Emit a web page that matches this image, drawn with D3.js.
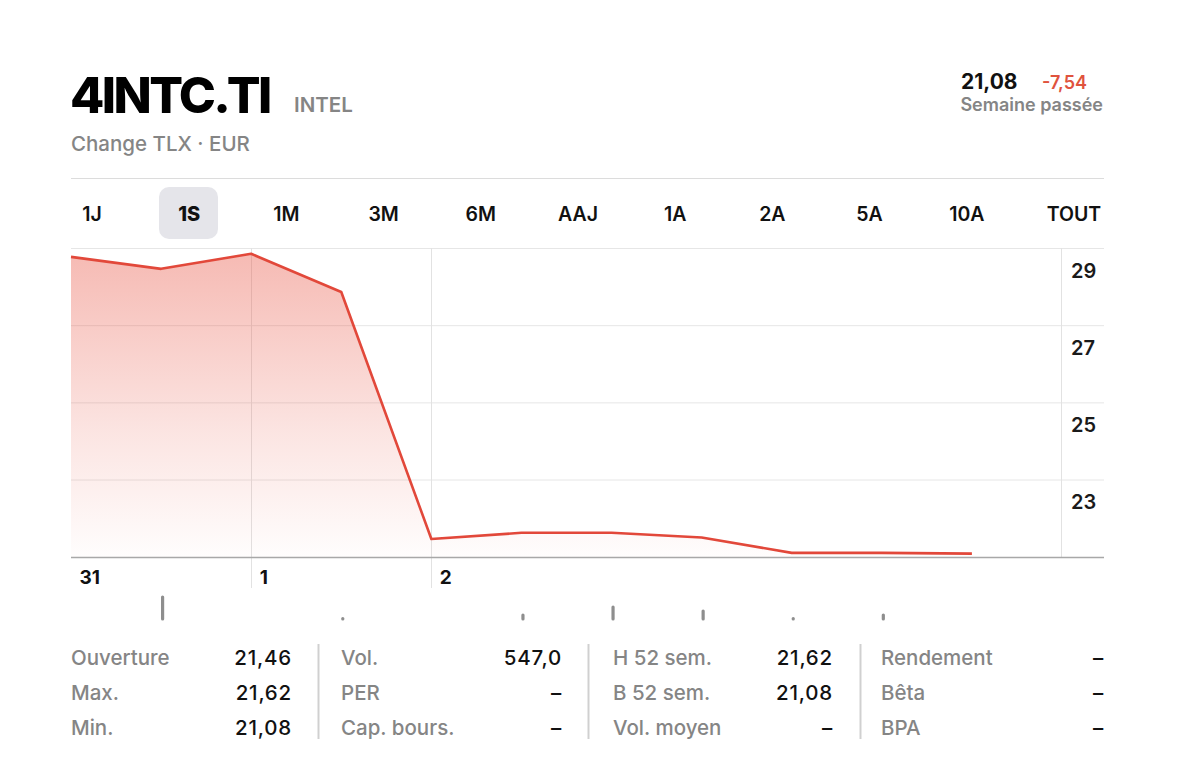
<!DOCTYPE html>
<html><head><meta charset="utf-8">
<script src="https://cdn.jsdelivr.net/npm/d3@7"></script>
<style>
html,body{margin:0;padding:0;background:#fff;}
svg{display:block;font-family:Inter,"Open Sans",sans-serif;}
</style></head>
<body><svg id="c" width="1200" height="775"></svg>
<script>
// ---- data ----
const symbol = "4INTC.TI";
const company = "INTEL";
const exchange = "Change TLX · EUR";
const lastPrice = "21,08";
const change = "-7,54";
const periodLabel = "Semaine passée";
const tabs = ["1J","1S","1M","3M","6M","AAJ","1A","2A","5A","10A","TOUT"];
const activeTab = "1S";
const prices = [28.77, 28.46, 28.85, 27.86, 21.46, 21.62, 21.62, 21.50, 21.10, 21.10, 21.08];
const volumes = [0, 22, 0, 0.4, 0, 4, 12, 8, 0.4, 4, 0];
const dayLabels = ["31","1","2"];
const dayIndex = [0, 2, 4];
const yTicks = [23, 25, 27, 29];
const statLabels = [["Ouverture","Max.","Min."],["Vol.","PER","Cap. bours."],["H 52 sem.","B 52 sem.","Vol. moyen"],["Rendement","Bêta","BPA"]];
const statValues = [["21,46","21,62","21,08"],["547,0","–","–"],["21,62","21,08","–"],["–","–","–"]];

// ---- layout ----
const svg = d3.select("#c");
const L = 71, R = 1104, plotR = 1061, topY = 248, botY = 557.5;
const x = d3.scaleLinear().domain([0, 11]).range([L, plotR + 1]);
const y = d3.scaleLinear().domain([20.98, 29]).range([botY, topY]);
const vy = d3.scaleLinear().domain([0, 22]).range([0, 22]);

// header
svg.append("text").attr("x", 70).attr("y", 113).attr("font-size", 50).attr("font-weight", 800)
  .attr("letter-spacing", -2.6).attr("fill", "#000").text(symbol);
svg.append("text").attr("x", 294).attr("y", 112).attr("font-size", 20.5).attr("font-weight", 600)
  .attr("fill", "#858585").text(company);
svg.append("text").attr("x", 71).attr("y", 151).attr("font-size", 20.5).attr("font-weight", 500)
  .attr("fill", "#858585").text(exchange);
svg.append("text").attr("x", 961).attr("y", 89).attr("font-size", 21).attr("font-weight", 700)
  .attr("fill", "#111").text(lastPrice);
svg.append("text").attr("x", 1087).attr("y", 89).attr("text-anchor", "end").attr("font-size", 18).attr("font-weight", 600)
  .attr("fill", "#e0533d").text(change);
svg.append("text").attr("x", 1103).attr("y", 111).attr("text-anchor", "end").attr("font-size", 18).attr("font-weight", 600)
  .attr("fill", "#858585").text(periodLabel);

// separator
svg.append("line").attr("x1", L).attr("x2", R).attr("y1", 178.5).attr("y2", 178.5).attr("stroke", "#dcdcdc");

// tabs
const tabX = (t, i) => i < 10 ? 92 + i * 97.2 : 1074;
svg.append("rect").attr("x", 159).attr("y", 187).attr("width", 59).attr("height", 52).attr("rx", 10)
  .attr("fill", "#e5e5ea");
svg.selectAll("text.tab").data(tabs).join("text").attr("class", "tab")
  .attr("x", tabX).attr("y", 221).attr("text-anchor", "middle")
  .attr("font-size", d => d === activeTab ? 20 : 19.5).attr("font-weight", d => d === activeTab ? 800 : 600)
  .attr("fill", "#111").text(d => d);

// gradient
const defs = svg.append("defs");
const g = defs.append("linearGradient").attr("id", "fillg").attr("gradientUnits", "userSpaceOnUse")
  .attr("x1", 0).attr("x2", 0).attr("y1", topY).attr("y2", botY);
g.append("stop").attr("offset", 0).attr("stop-color", "#e8503f").attr("stop-opacity", 0.4);
g.append("stop").attr("offset", 0.6).attr("stop-color", "#e8503f").attr("stop-opacity", 0.15);
g.append("stop").attr("offset", 1).attr("stop-color", "#e8503f").attr("stop-opacity", 0.01);

// y axis with gridlines
const yAxis = svg.append("g").attr("transform", `translate(${R},0)`)
  .call(d3.axisLeft(y).tickValues(yTicks).tickSize(R - L).tickFormat(d3.format("d")));
yAxis.select(".domain").remove();
yAxis.selectAll(".tick line").attr("stroke", "#e6e6e6");
yAxis.selectAll(".tick text").attr("x", -33).attr("dy", 29).attr("text-anchor", "start")
  .attr("font-size", 20).attr("font-weight", 600).attr("fill", "#1a1a1a").attr("font-family", "Inter,sans-serif");

// vertical lines
svg.append("line").attr("x1", plotR + 0.5).attr("x2", plotR + 0.5).attr("y1", topY).attr("y2", botY).attr("stroke", "#e2e2e2");
svg.selectAll("line.vday").data(dayIndex.slice(1)).join("line").attr("class", "vday")
  .attr("x1", d => Math.round(x(d)) + 0.5).attr("x2", d => Math.round(x(d)) + 0.5)
  .attr("y1", topY).attr("y2", 588).attr("stroke", "#e2e2e2");

// area + line
const pts = prices.map((p, i) => [i, p]);
svg.append("path").datum(pts)
  .attr("d", d3.area().x(d => x(d[0])).y0(botY).y1(d => y(d[1])))
  .attr("fill", "url(#fillg)");
svg.append("path").datum(pts)
  .attr("d", d3.line().x(d => x(d[0])).y(d => y(d[1])))
  .attr("fill", "none").attr("stroke", "#e2483a").attr("stroke-width", 2.6).attr("stroke-linejoin", "round");

// x axis
const xAxis = svg.append("g").attr("transform", `translate(0,${botY})`)
  .call(d3.axisBottom(x).tickValues(dayIndex).tickSize(0).tickFormat((d, i) => dayLabels[i]));
xAxis.select(".domain").attr("d", `M${L},0H${R}`).attr("stroke", "#a8a8a8").attr("stroke-width", 1.5);
xAxis.selectAll(".tick text").attr("text-anchor", "start").attr("x", 8).attr("y", 0).attr("dy", 26)
  .attr("font-size", 19).attr("font-weight", 700).attr("fill", "#111").attr("font-family", "Inter,sans-serif");

// volume bars
const vbase = 619;
svg.selectAll("line.vol").data(volumes.map((v, i) => [i, v]).filter(d => d[1] > 0)).join("line").attr("class", "vol")
  .attr("x1", d => x(d[0]) + 1.5).attr("x2", d => x(d[0]) + 1.5)
  .attr("y1", vbase).attr("y2", d => vbase - vy(d[1]))
  .attr("stroke", "#8e8e8e").attr("stroke-width", 3.2).attr("stroke-linecap", "round");

// stats
const colX = [71, 341, 613, 881], colV = [292, 562, 833, 1104], rowY = [665, 700, 735];
const sepX = [318, 588, 860];
svg.selectAll("line.sep").data(sepX).join("line").attr("class", "sep")
  .attr("x1", d => d + 0.5).attr("x2", d => d + 0.5).attr("y1", 644).attr("y2", 739)
  .attr("stroke", "#d0d0d0").attr("stroke-width", 2);
statLabels.forEach((col, c) => {
  col.forEach((lab, r) => {
    svg.append("text").attr("x", colX[c]).attr("y", rowY[r]).attr("font-size", 20.5).attr("font-weight", 500)
      .attr("fill", "#858585").text(lab);
    svg.append("text").attr("x", colV[c]).attr("y", rowY[r]).attr("text-anchor", "end").attr("font-size", 20.5)
      .attr("letter-spacing", 0.8).attr("font-weight", 500).attr("fill", "#111").text(statValues[c][r]);
  });
});
</script></body></html>
